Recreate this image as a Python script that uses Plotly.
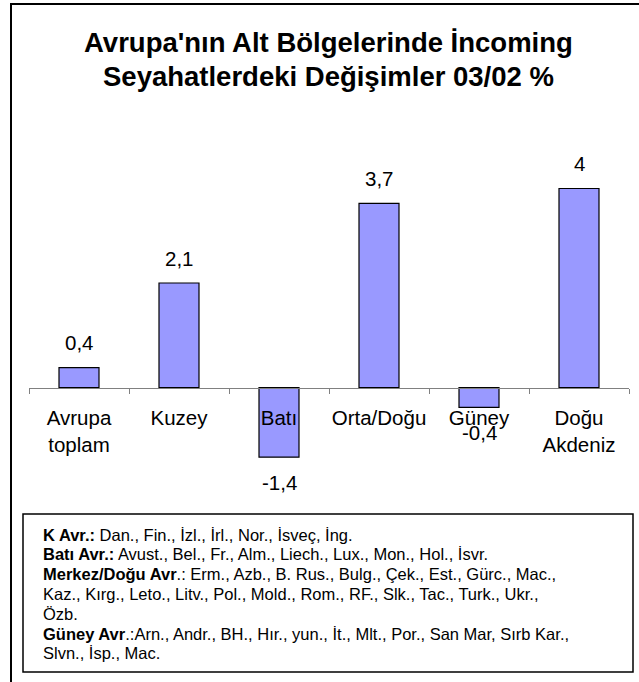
import plotly.graph_objects as go

categories = ["Avrupa<br>toplam", "Kuzey", "Batı", "Orta/Doğu", "Güney", "Doğu<br>Akdeniz"]
values = [0.4, 2.1, -1.4, 3.7, -0.4, 4.0]
value_labels = ["0,4", "2,1", "-1,4", "3,7", "-0,4", "4"]
title_lines = ["Avrupa'nın Alt Bölgelerinde İncoming", "Seyahatlerdeki Değişimler 03/02 %"]
note_lines = [
    "<b>K Avr.:</b> Dan., Fin., İzl., İrl., Nor., İsveç, İng.",
    "<b>Batı Avr.:</b> Avust., Bel., Fr., Alm., Liech., Lux., Mon., Hol., İsvr.",
    "<b>Merkez/Doğu Avr</b>.: Erm., Azb., B. Rus., Bulg., Çek., Est., Gürc., Mac.,",
    "Kaz., Kırg., Leto., Litv., Pol., Mold., Rom., RF., Slk., Tac., Turk., Ukr.,",
    "Özb.",
    "<b>Güney Avr</b>.:Arn., Andr., BH., Hır., yun., İt., Mlt., Por., San Mar, Sırb Kar.,",
    "Slvn., İsp., Mac.",
]

W, H = 639, 682
PL, PR = 29, 629          # plot area x (px)
PT, PB = 130, 490         # plot area y (px)
ZERO_PX = 387.5
PX_PER_UNIT = 49.75
y_top = (ZERO_PX - PT) / PX_PER_UNIT
y_bot = (ZERO_PX - PB) / PX_PER_UNIT

def px_x(px):
    return (px - PL) / (PR - PL)

def px_y(py):
    return (PB - py) / (PB - PT)

FONT = "Liberation Sans, Arial, sans-serif"

fig = go.Figure()
fig.add_trace(go.Bar(
    x=categories, y=values, width=0.4,
    marker=dict(color="#9999FF", line=dict(color="#000000", width=1.2)),
    hoverinfo="skip",
))

annotations = []
for c, v, t in zip(categories, values, value_labels):
    annotations.append(dict(
        x=c, y=v, xref="x", yref="y", text=t, showarrow=False,
        yanchor="middle", xanchor="center",
        yshift=25 if v >= 0 else -25,
        font=dict(family=FONT, size=20.5, color="#000000"),
    ))

# title lines
for line, cy in zip(title_lines, [43, 76]):
    annotations.append(dict(
        x=px_x(328), y=px_y(cy), xref="paper", yref="paper", text="<b>" + line + "</b>",
        showarrow=False, xanchor="center", yanchor="middle",
        font=dict(family=FONT, size=27.5, color="#000000"),
    ))

# note lines
for i, line in enumerate(note_lines):
    cy = 534.5 + i * 19.8
    annotations.append(dict(
        x=px_x(41), y=px_y(cy), xref="paper", yref="paper", text=line,
        showarrow=False, xanchor="left", yanchor="middle",
        font=dict(family=FONT, size=16.5, color="#000000"),
    ))

shapes = [
    # outer frame
    dict(type="rect", xref="paper", yref="paper",
         x0=px_x(11), x1=px_x(660), y0=px_y(700), y1=px_y(4),
         line=dict(color="#000000", width=2), fillcolor="rgba(0,0,0,0)"),
    # note box
    dict(type="rect", xref="paper", yref="paper",
         x0=px_x(23), x1=px_x(633), y0=px_y(672), y1=px_y(514),
         line=dict(color="#000000", width=1.5), fillcolor="rgba(0,0,0,0)"),
]

fig.update_layout(
    width=W, height=H,
    margin=dict(l=PL, r=W - PR, t=PT, b=H - PB, pad=0),
    paper_bgcolor="white", plot_bgcolor="white",
    showlegend=False,
    annotations=annotations,
    shapes=shapes,
    xaxis=dict(
        type="category", anchor="free", position=px_y(ZERO_PX),
        showline=True, linecolor="#808080", linewidth=1,
        ticks="outside", tickson="boundaries", ticklen=5, tickcolor="#808080",
        tickangle=0,
        tickfont=dict(family=FONT, size=20.5, color="#000000"),
        ticklabelstandoff=12,
        showgrid=False, zeroline=False, fixedrange=True, automargin=False,
    ),
    yaxis=dict(
        range=[y_bot, y_top], showgrid=False, zeroline=False,
        showticklabels=False, showline=False, ticks="", fixedrange=True,
    ),
)

fig.write_html("out.html", config={"displayModeBar": False},
               post_script="document.body.style.margin='0';")
